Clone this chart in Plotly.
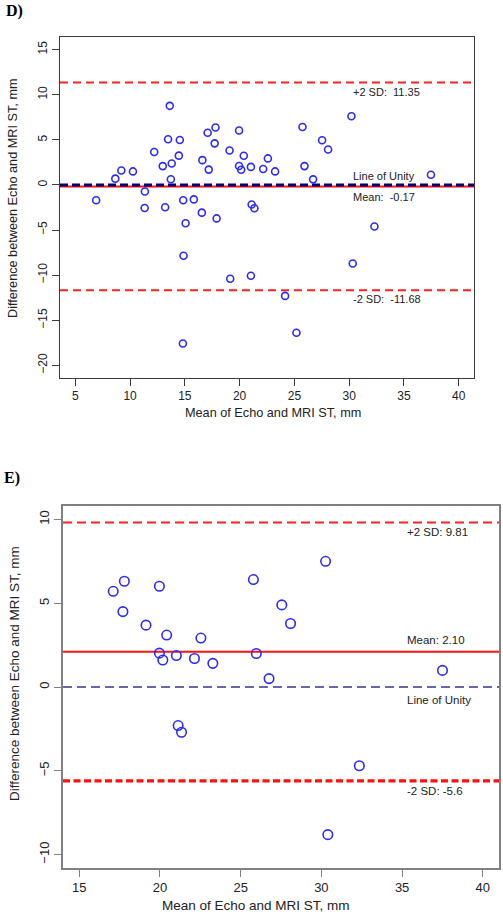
import plotly.graph_objects as go

# ---------------- Panel D data ----------------
d_mean_x = [6.9, 8.65, 9.2, 10.26, 11.35, 11.33, 12.2, 12.98, 13.2, 13.62,
            13.47, 13.8, 13.72, 14.45, 14.54, 14.85, 15.82, 16.55, 16.6, 17.18,
            17.08, 17.72, 17.8, 17.9, 19.08, 19.95, 19.95, 20.14, 20.38, 21.03,
            21.1, 21.35, 15.07, 14.88, 19.14, 21.03, 14.82, 32.31, 30.33, 24.15,
            25.19, 25.74, 30.21, 27.53, 28.08, 22.58, 22.15, 23.24, 25.92, 26.71,
            37.47]
d_diff = [-1.7, 0.7, 1.6, 1.5, -0.73, -2.55, 3.65, 2.09, -2.48, 8.77,
          5.07, 2.38, 0.63, 3.25, 4.99, -1.69, -1.6, -3.07, 2.75, 1.7,
          5.79, 4.61, 6.36, -3.71, 3.82, 6.04, 2.1, 1.68, 3.24, 2.0,
          -2.17, -2.59, -4.24, -7.85, -10.39, -10.06, -17.57, -4.61, -8.7, -12.3,
          -16.39, 6.43, 7.61, 4.96, 3.93, 2.94, 1.76, 1.5, 2.09, 0.62,
          1.13]
d_upper, d_mean, d_lower, d_unity = 11.35, -0.17, -11.68, 0.0
d_labels = ["+2 SD:  11.35", "Line of Unity", "Mean:  -0.17", "-2 SD:  -11.68"]
d_xticks = [5, 10, 15, 20, 25, 30, 35, 40]
d_yticks = [-20, -15, -10, -5, 0, 5, 10, 15]

# ---------------- Panel E data ----------------
e_mean_x = [17.11, 17.71, 17.8, 19.14, 19.97, 19.97, 20.18, 20.42, 21.02, 21.13,
            21.34, 22.14, 22.54, 23.28, 25.79, 25.97, 26.76, 27.55, 28.09, 30.26,
            30.4, 32.35, 37.5]
e_diff = [5.71, 4.5, 6.31, 3.69, 6.01, 2.02, 1.61, 3.1, 1.88, -2.3,
          -2.7, 1.7, 2.92, 1.41, 6.41, 2.0, 0.5, 4.9, 3.79, 7.5,
          -8.81, -4.7, 0.99]
e_upper, e_mean, e_lower, e_unity = 9.81, 2.10, -5.6, 0.0
e_labels = ["+2 SD: 9.81", "Mean: 2.10", "Line of Unity", "-2 SD: -5.6"]
e_xticks = [15, 20, 25, 30, 35, 40]
e_yticks = [-10, -5, 0, 5, 10]

x_title = "Mean of Echo and MRI ST, mm"
y_title = "Difference between Echo and MRI ST, mm"

SANS = "Liberation Sans, Arial, sans-serif"
SERIF = "Liberation Serif, Times New Roman, serif"
W, H = 503, 914

fig = go.Figure()

fig.add_trace(go.Scatter(x=d_mean_x, y=d_diff, mode="markers", xaxis="x", yaxis="y",
                         marker=dict(symbol="circle-open", size=7, color="#2a2aff",
                                     line=dict(width=1.6, color="#2a2aff")),
                         showlegend=False, hoverinfo="skip"))
fig.add_trace(go.Scatter(x=e_mean_x, y=e_diff, mode="markers", xaxis="x2", yaxis="y2",
                         marker=dict(symbol="circle-open", size=9.5, color="#2a2aff",
                                     line=dict(width=1.6, color="#2a2aff")),
                         showlegend=False, hoverinfo="skip"))

def hline(xref, yref, y, color, width, dash):
    fig.add_shape(type="line", xref=xref + " domain", yref=yref, x0=0, x1=1, y0=y, y1=y,
                  line=dict(color=color, width=width, dash=dash), layer="below")

# Panel D lines
hline("x", "y", d_upper, "#ff2020", 2, "8px,5px")
hline("x", "y", d_lower, "#ff2020", 2, "8px,5px")
hline("x", "y", d_mean, "#ff1010", 2, "solid")
hline("x", "y", d_unity, "#00006e", 3, "8px,4px")

# Panel E lines
hline("x2", "y2", e_upper, "#ff2020", 2, "9px,5px")
hline("x2", "y2", e_lower, "#ff1010", 3.2, "7px,3.5px")
hline("x2", "y2", e_mean, "#ff1010", 2, "solid")
hline("x2", "y2", e_unity, "#34349c", 1.4, "9px,5px")

def label(xref, yref, x, y, text, shift, size):
    fig.add_annotation(xref=xref, yref=yref, x=x, y=y, text=text, showarrow=False,
                       xanchor="left", yanchor="middle", yshift=shift,
                       font=dict(family=SANS, size=size, color="#222222"))

d_vals = [d_upper, d_unity, d_mean, d_lower]
d_shifts = [-9, 9, -11, -9]
for v, t, s in zip(d_vals, d_labels, d_shifts):
    label("x", "y", 30.2, v, t, s, 11)

e_vals = [e_upper, e_mean, e_unity, e_lower]
e_shifts = [-9, 12, -13, -10]
for v, t, s in zip(e_vals, e_labels, e_shifts):
    label("x2", "y2", 35.2, v, t, s, 11.5)

# Axis titles and panel letters (paper coords)
def ptext(xp, yp, text, size, angle=0, family=SANS, bold=False, color="#222222"):
    fig.add_annotation(xref="paper", yref="paper", x=xp / W, y=1 - yp / H,
                       text=("<b>%s</b>" % text) if bold else text, showarrow=False,
                       textangle=angle, xanchor="center", yanchor="middle",
                       font=dict(family=family, size=size, color=color))

ptext(273, 413, x_title, 12.7)
ptext(13, 198, y_title, 12.7, angle=-90)
ptext(256, 905, x_title, 13.5)
ptext(14, 674, y_title, 13.5, angle=-90)
ptext(14, 11, "D)", 16, family=SERIF, bold=True, color="#000000")
ptext(12, 478, "E)", 16, family=SERIF, bold=True, color="#000000")

axis_common = dict(showgrid=False, zeroline=False, showline=True, mirror=True,
                   ticks="outside", ticklen=7)

fig.update_layout(
    width=W, height=H,
    margin=dict(l=0, r=0, t=0, b=0),
    paper_bgcolor="white", plot_bgcolor="white",
    showlegend=False,
    xaxis=dict(axis_common, domain=[60 / W, 474 / W], range=[3.6, 41.4],
               tickvals=d_xticks, linecolor="#3a3a3a", linewidth=1, tickcolor="#3a3a3a",
               tickfont=dict(family=SANS, size=12, color="#222222"), anchor="y"),
    yaxis=dict(axis_common, domain=[1 - 378 / H, 1 - 37 / H], range=[-21.4, 16.4],
               tickvals=d_yticks, tickangle=-90, linecolor="#3a3a3a", linewidth=1,
               tickcolor="#3a3a3a",
               tickfont=dict(family=SANS, size=12, color="#222222"), anchor="x"),
    xaxis2=dict(axis_common, domain=[63 / W, 499 / W], range=[14, 41],
                tickvals=e_xticks, linecolor="#808080", linewidth=1.5, tickcolor="#808080",
                tickfont=dict(family=SANS, size=13, color="#222222"), anchor="y2"),
    yaxis2=dict(axis_common, domain=[1 - 868 / H, 1 - 506 / H], range=[-10.8, 10.8],
                tickvals=e_yticks, tickangle=-90, linecolor="#808080", linewidth=1.5,
                tickcolor="#808080",
                tickfont=dict(family=SANS, size=13, color="#222222"), anchor="x2"),
)

fig.write_html("out.html",
               config={"displayModeBar": False},
               post_script="document.body.style.margin='0px';"
                           "document.body.style.overflow='hidden';")
